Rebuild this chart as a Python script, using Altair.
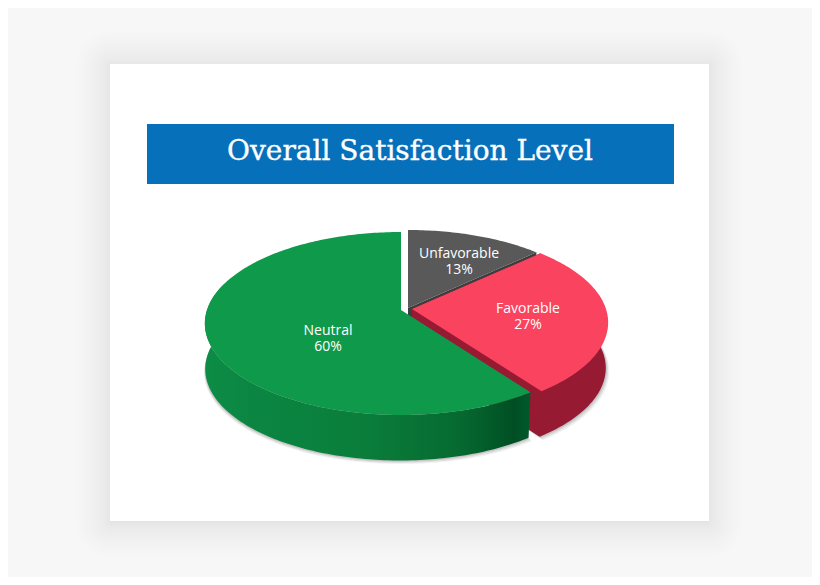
import math
import altair as alt
import pandas as pd

# ---- data ----
categories = ["Unfavorable", "Favorable", "Neutral"]
shares = [13, 27, 60]
title_text = "Overall Satisfaction Level"

# ---- layout / style ----
W, H = 804, 569
X_DOM, Y_DOM = [8, 812], [577, 8]
DEPTH, HEIGHT, BASE_SCALE, BASE_SHIFT = 0.1475, 45.5, 0.993, -1.0
RX, RY = 194.0, 89.5
APEX = {"Unfavorable": (408, 308), "Favorable": (412, 309), "Neutral": (401, 310)}
TOP = {"Unfavorable": "#595959", "Favorable": "#f9435f", "Neutral": "#0e9a4a"}
WALL = {"Unfavorable": "#3d3d3d", "Favorable": "#951a32"}
LABEL_AT = {"Unfavorable": (459, 254), "Favorable": (528, 309), "Neutral": (328, 331)}

xs = alt.X("x:Q", scale=alt.Scale(domain=X_DOM, nice=False, zero=False), axis=None)
ys = alt.Y("y:Q", scale=alt.Scale(domain=Y_DOM, nice=False, zero=False), axis=None)


def proj(cat, deg, base=False, r=1.0):
    cx, cy = APEX[cat]
    t = math.radians(deg)
    u, v = r * math.sin(t), -r * math.cos(t)
    s = BASE_SCALE if base else 1.0
    den = 1 - DEPTH * v
    return (cx + s * RX * u / den + (BASE_SHIFT if base else 0),
            cy + RY * v / den + (HEIGHT if base else 0))


def arc(cat, a, b, base=False):
    n = max(2, int(abs(b - a)))
    return [proj(cat, a + (b - a) * i / n, base) for i in range(n + 1)]


def poly(points, fill, opacity=1.0):
    df = pd.DataFrame({"x": [p[0] for p in points] + [points[0][0]],
                       "y": [p[1] for p in points] + [points[0][1]]})
    df["o"] = range(len(df))
    return alt.Chart(df).mark_line(fill=fill, stroke="transparent", strokeWidth=0,
                                   opacity=opacity, interpolate="linear").encode(
        x=xs, y=ys, order="o:Q")


def rect(x0, y0, x1, y1, fill, opacity=1.0, radius=0):
    df = pd.DataFrame({"x": [x0], "x2": [x1], "y": [y0], "y2": [y1]})
    return alt.Chart(df).mark_rect(color=fill, opacity=opacity, cornerRadius=radius).encode(
        x=xs, x2="x2:Q", y=ys, y2="y2:Q")


bounds = {}
acc = 0
for c, s in zip(categories, shares):
    bounds[c] = (acc * 3.6, (acc + s) * 3.6)
    acc += s

layers = [rect(8, 8, 812, 577, "#f7f7f7")]
# card shadow: many faint layers, denser near the card
N_SH = 18
for i in range(N_SH, 0, -1):
    g = 34 * (i / N_SH) ** 1.6
    layers.append(rect(110 - g, 65 - g, 709 + g, 523 + g, "#000000", 0.0045, radius=g))
layers.append(rect(110, 64, 709, 521, "#ffffff"))
layers.append(rect(147, 124, 674, 184, "#0670bb"))

# title
layers.append(alt.Chart(pd.DataFrame({"x": [410], "y": [152], "t": [title_text]})).mark_text(
    font="DejaVu Serif", fontSize=28, color="#ffffff", align="center", baseline="middle",
    stroke="#ffffff", strokeWidth=0.35
).encode(x=xs, y=ys, text="t:N"))

# pie drop shadow
un, fa, ne = categories
for grow, op in [(3.5, 0.08), (2.4, 0.12), (1.2, 0.18)]:
    for c, a, b in [(ne, bounds[ne][0], 285), (fa, 60, bounds[fa][1])]:
        pts = arc(c, a, b, True)
        cx, cy = APEX[c]
        pts = [(x + (grow if x > cx else -grow * 0.3), y + grow) for x, y in pts]
        layers.append(poly(pts + [(cx, cy + HEIGHT)], "#555555", op))

# Unfavorable: wall then top
a, b = bounds[un]
ax = APEX[un]
layers.append(poly([ax, proj(un, b), proj(un, b, True), (ax[0], ax[1] + HEIGHT)], WALL[un]))
layers.append(poly([ax] + arc(un, a, b), TOP[un]))

# Favorable: cut wall and outer side as one silhouette, then top
a, b = bounds[fa]
ax = APEX[fa]
layers.append(poly([ax, (ax[0], ax[1] + HEIGHT)] + arc(fa, b, a, True) + [proj(fa, a)], WALL[fa]))
layers.append(poly([ax] + arc(fa, a, b), TOP[fa]))

# Neutral: shaded side, top
a, b = bounds[ne]
side = alt.Gradient(
    gradient="linear", x1=1, x2=0, y1=0, y2=0,
    stops=[
        alt.GradientStop(offset=0.0, color="#005a2c"),
        alt.GradientStop(offset=0.05, color="#004f24"),
        alt.GradientStop(offset=0.22, color="#066a30"),
        alt.GradientStop(offset=0.5, color="#0a7d3b"),
        alt.GradientStop(offset=0.85, color="#0b8642"),
        alt.GradientStop(offset=1.0, color="#0d8c46"),
    ],
)
layers.append(poly(arc(ne, a, 288) + arc(ne, 288, a, True), side))
layers.append(poly([APEX[ne]] + arc(ne, a, b), TOP[ne]))

# labels
labels = pd.DataFrame({
    "x": [LABEL_AT[c][0] for c in categories],
    "y": [LABEL_AT[c][1] for c in categories],
    "t": [f"{c}\n{s}%" for c, s in zip(categories, shares)],
})
layers.append(alt.Chart(labels).mark_text(
    font="Open Sans", fontSize=14, color="#ffffff", align="center", baseline="middle",
    lineBreak="\n", lineHeight=16
).encode(x=xs, y=ys, text="t:N"))

chart = alt.layer(*layers).properties(width=W, height=H, padding=0).configure_view(stroke=None)
chart.save("out.html", embed_options={"renderer": "svg", "actions": False})
